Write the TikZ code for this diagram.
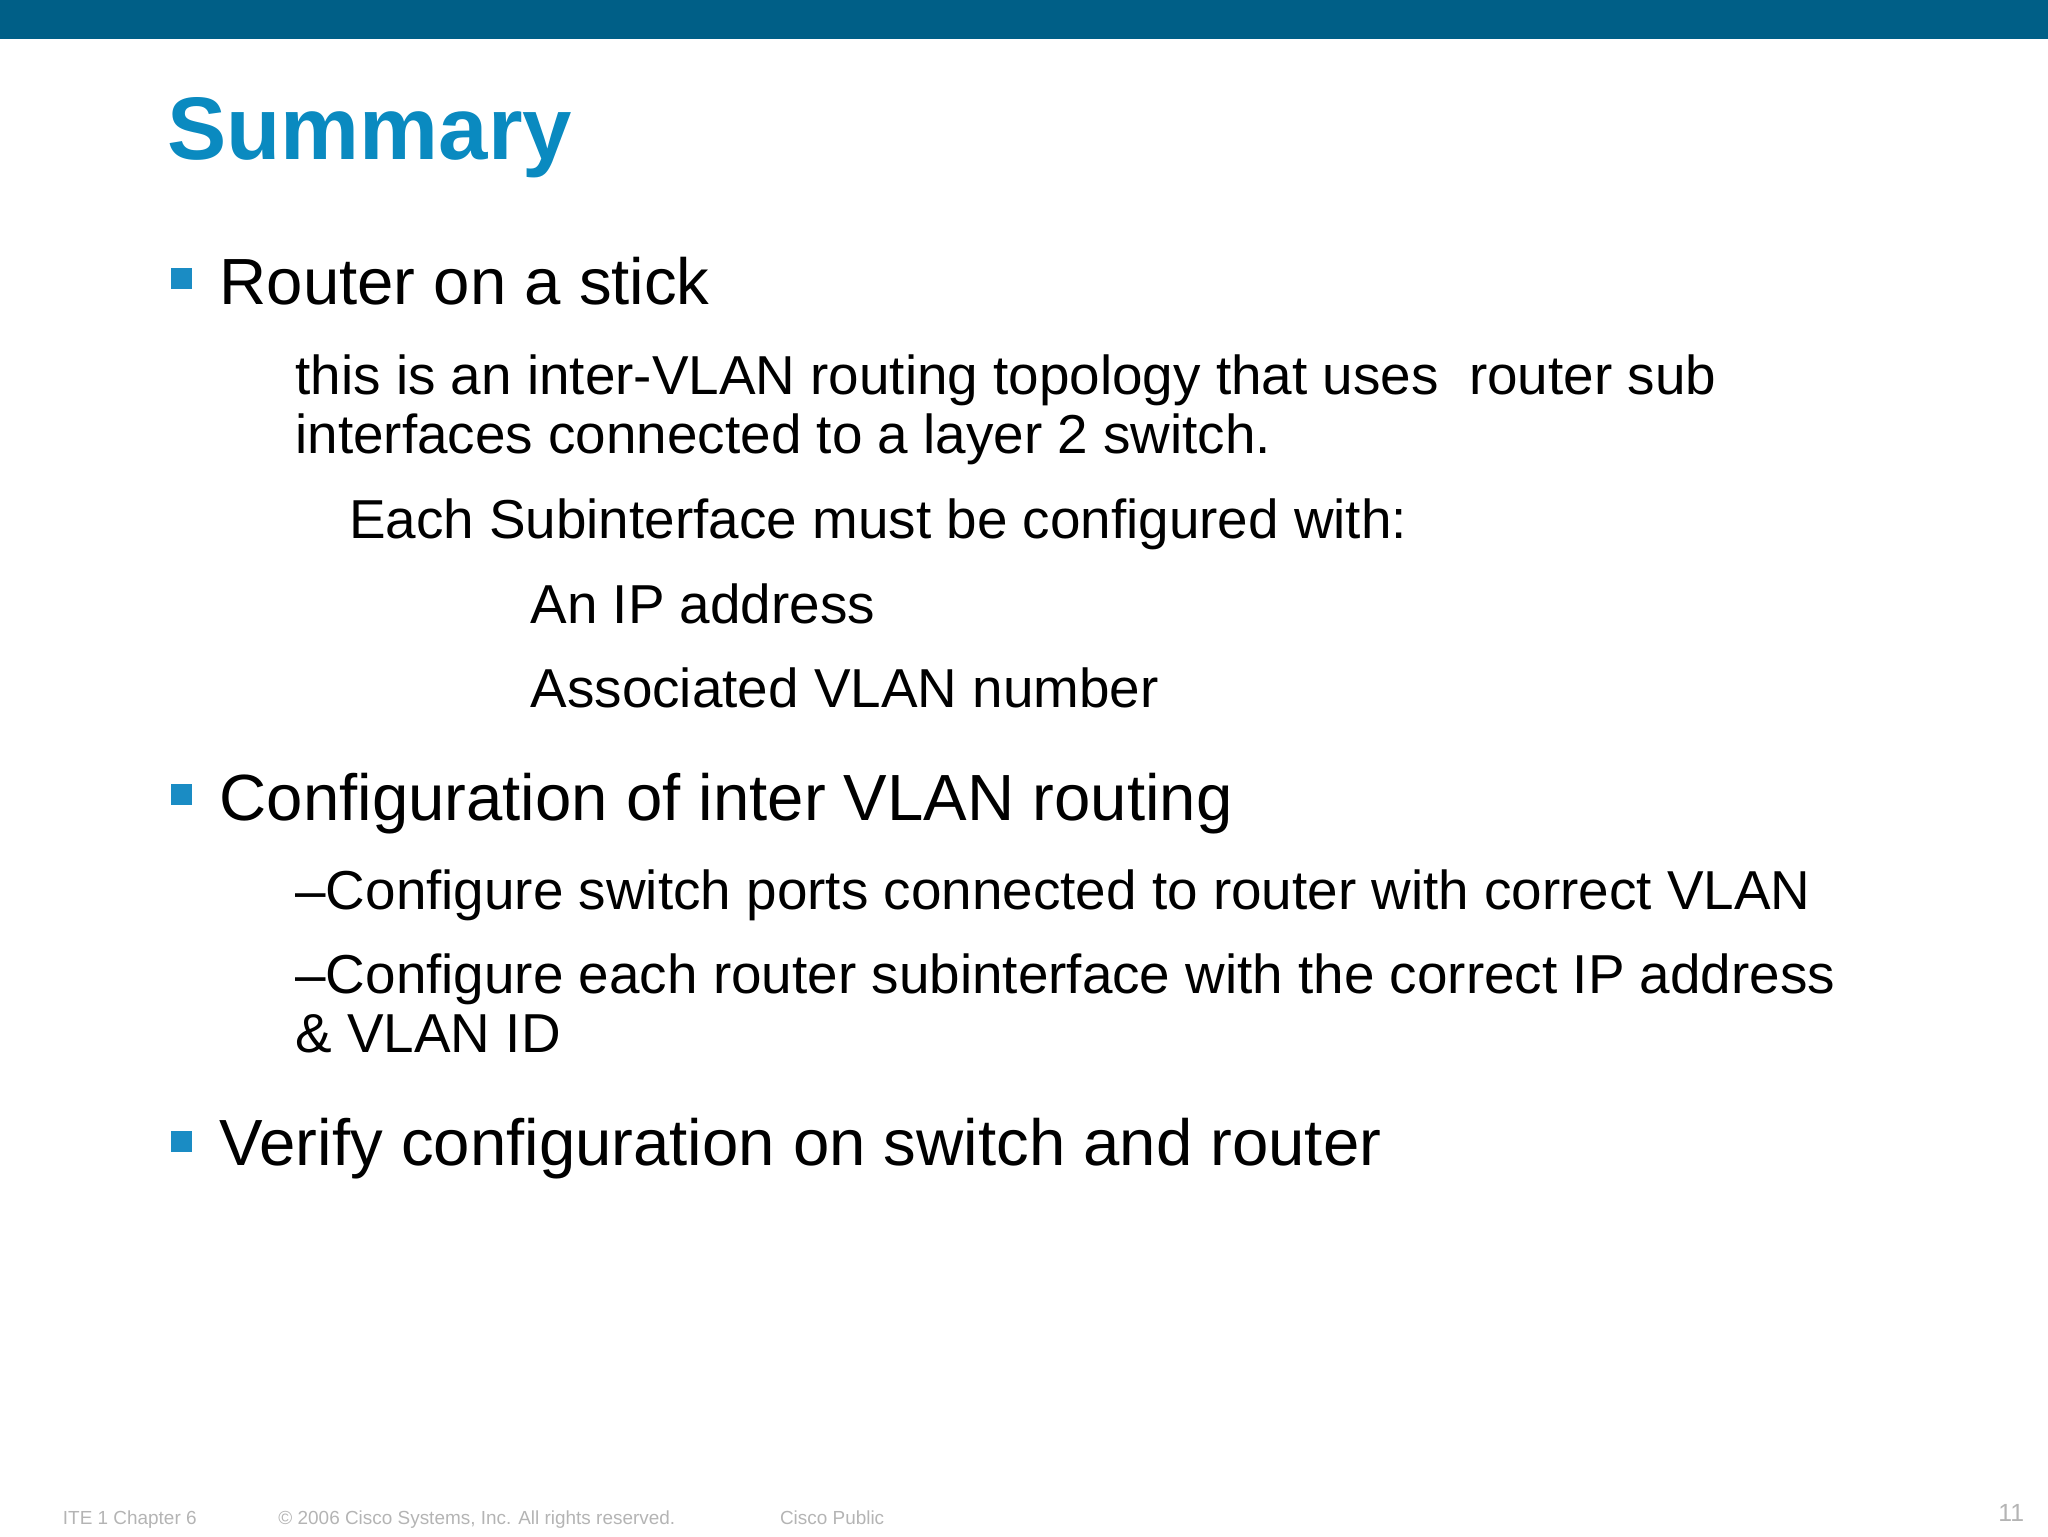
\documentclass[tikz,border=0pt]{standalone}
\usepackage{fontspec}
\setmainfont{Liberation Sans}
\definecolor{barblue}{HTML}{005F87}
\definecolor{titleblue}{HTML}{0A8AC0}
\definecolor{bulblue}{HTML}{1A8CC4}
\definecolor{footgray}{HTML}{B4B4B4}
\begin{document}
\begin{tikzpicture}[x=1pt,y=-1pt,
  txt/.style={anchor=base west,inner sep=0pt},
  lvl1/.style={txt,font=\fontsize{50}{60}\selectfont},
  lvl2/.style={txt,font=\fontsize{42}{46}\selectfont,align=left},
  foot/.style={txt,text=footgray,font=\fontsize{14.5}{16}\selectfont},
  bul/.style={fill=bulblue}]
\useasboundingbox (0,0) rectangle (1568,1176);
\fill[barblue] (0,0) rectangle (1568,30);
\node[txt,text=titleblue,font=\fontsize{68}{70}\selectfont\bfseries] (title) at (128,122) {Summary};
\fill[bul] (131,205) rectangle (147,221);
\node[lvl1] (b1) at (168,233) {Router on a stick};
\node[lvl2] (s1) at (226,302) {this is an inter-VLAN routing topology that uses\ \ router sub};
\node[lvl2] (s1b) at (226,347) {interfaces connected to a layer 2 switch.};
\node[lvl2] (s2) at (267,412) {Each Subinterface must be configured with:};
\node[lvl2] (s3) at (406,477) {An IP address};
\node[lvl2] (s4) at (406,542) {Associated VLAN number};
\fill[bul] (131,600) rectangle (147,616);
\node[lvl1] (b2) at (168,628) {Configuration of inter VLAN routing};
\node[lvl2] (c1) at (226,696) {–Configure switch ports connected to router with correct VLAN};
\node[lvl2] (c2) at (226,761) {–Configure each router subinterface with the correct IP address};
\node[lvl2] (c2b) at (226,806) {\& VLAN ID};
\fill[bul] (131,866) rectangle (147,882);
\node[lvl1] (b3) at (168,892) {Verify configuration on switch and router};
\node[foot] (f1) at (48,1167) {ITE 1 Chapter 6};
\node[foot] (f2) at (213,1167) {© 2006 Cisco Systems, Inc. All rights reserved.};
\node[foot] (f3) at (597,1167) {Cisco Public};
\node[txt,anchor=base east,text=footgray,font=\fontsize{19}{20}\selectfont] (pg) at (1550,1165) {11};
\end{tikzpicture}
\end{document}
